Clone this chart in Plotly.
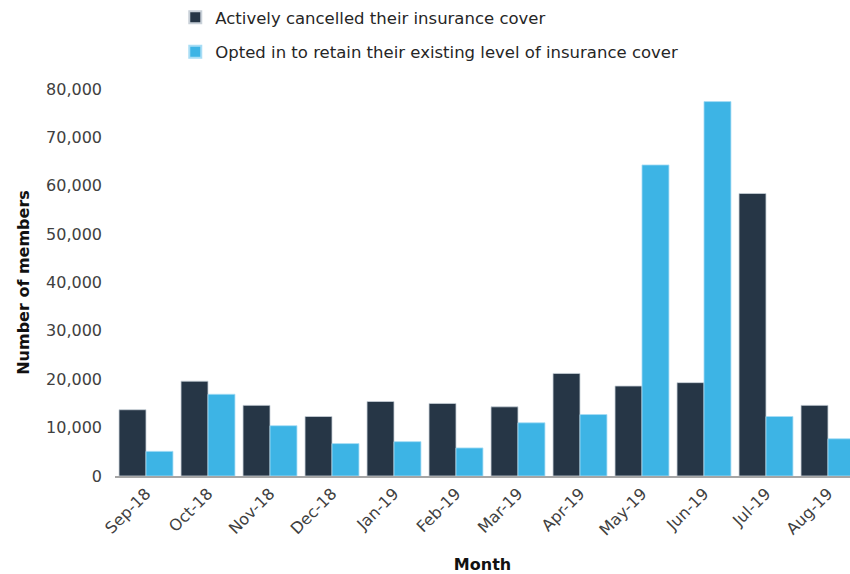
import plotly.graph_objects as go

months = ["Sep-18", "Oct-18", "Nov-18", "Dec-18", "Jan-19", "Feb-19",
          "Mar-19", "Apr-19", "May-19", "Jun-19", "Jul-19", "Aug-19"]
cancelled = [13700, 19600, 14600, 12300, 15400, 15000,
             14300, 21200, 18600, 19300, 58400, 14600]
opted_in = [5100, 16900, 10400, 6700, 7100, 5800,
            11000, 12700, 64300, 77400, 12300, 7700]
series_names = ["Actively cancelled their insurance cover",
                "Opted in to retain their existing level of insurance cover"]
y_ticks = [0, 10000, 20000, 30000, 40000, 50000, 60000, 70000, 80000]

DARK = "#263646"
LIGHT = "#3DB4E5"
FONT = "'DejaVu Sans', Lato, sans-serif"

fig = go.Figure()
fig.add_trace(go.Bar(x=months, y=cancelled, name=series_names[0], legendgroup="a",
                     marker=dict(color=DARK, line=dict(color="#C8D0D8", width=0.8))))
fig.add_trace(go.Bar(x=months, y=opted_in, name=series_names[1], legendgroup="b",
                     marker=dict(color=LIGHT, line=dict(color="#A8DDF5", width=0.8))))

fig.update_layout(
    width=850, height=574,
    margin=dict(l=115, r=0, t=89, b=98),
    paper_bgcolor="white", plot_bgcolor="white",
    barmode="group", bargap=0.13, bargroupgap=0,
    font=dict(family=FONT, color="#404040", size=15),
    showlegend=True,
    legend=dict(x=0.082, y=1.231, xanchor="left", yanchor="top",
                orientation="v", tracegroupgap=10,
                font=dict(size=16.5, color="#262626", family=FONT),
                itemsizing="constant", bgcolor="rgba(0,0,0,0)"),
    xaxis=dict(type="category", range=[-0.5, 11.355], tickangle=-45,
               showgrid=False, showline=True, linecolor="#A6A6A6", linewidth=2,
               ticks="", tickfont=dict(size=16, color="#404040"),
               title=dict(text="<b>Month</b>", font=dict(size=16, color="#111111"), standoff=24)),
    yaxis=dict(range=[0, 80000], tickvals=y_ticks, tickformat=",",
               showgrid=False, zeroline=False, showline=False, ticks="",
               ticklabelstandoff=12, tickfont=dict(size=16, color="#404040"),
               title=dict(text="<b>Number of members</b>", font=dict(size=16, color="#111111"),
                          standoff=12)),
)

fig.write_html("out.html")
